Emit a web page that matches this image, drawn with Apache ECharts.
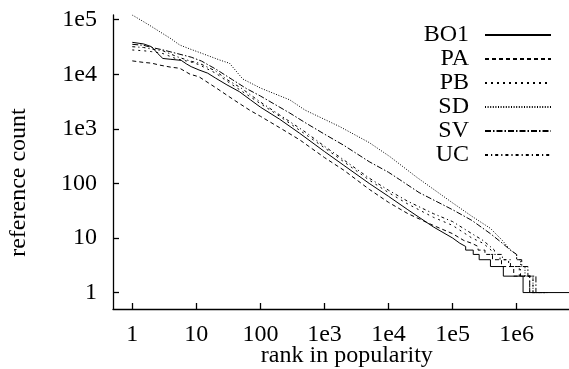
<!DOCTYPE html>
<html>
<head>
<meta charset="utf-8">
<script src="https://cdn.jsdelivr.net/npm/echarts@6/dist/echarts.min.js"></script>
<style>
html,body{margin:0;padding:0;background:#fff;}
#chart{width:569px;height:369px;}
</style>
</head>
<body>
<div id="chart"></div>
<script>
const seriesNames = ['BO1', 'PA', 'PB', 'SD', 'SV', 'UC'];

const BO1 = [[1,38500],[1.5,36000],[2,32000],[2.5,24000],[3,19500],[4,18800],[5.8,18000],[7,15500],[8.3,13800],[11,12000],[15,10500],[20,8500],[30,6400],[47,4800],[70,3400],[100,2500],[200,1500],[410,830],[1000,384],[2000,215],[5000,100],[10000,58],[20000,33],[50000,16],[100000,10],[130000,8],[160000,7],[160000,6],[210000,6],[210000,5],[260000,5],[260000,4],[390000,4],[390000,3],[620000,3],[620000,2],[1260000,2],[1260000,1],[7000000,1]];

const PA = [[1,17600],[1.5,16500],[2,16000],[2.7,14700],[4,13500],[5.5,12900],[8,10000],[11,9000],[20,5700],[40,3300],[68,2200],[100,1700],[200,1050],[410,630],[1000,298],[2000,175],[5000,78],[10000,45],[20000,28],[50000,17],[100000,12],[150000,9],[200000,8],[250000,7],[250000,6],[320000,6],[320000,5],[420000,5],[420000,4],[580000,4],[580000,3],[900000,3],[900000,2],[1600000,2],[1600000,1],[2500000,1]];

const PB = [[1,27900],[1.5,27000],[2,26000],[3,24000],[5,19000],[8,17000],[11,15000],[20,10500],[30,7500],[50,5000],[100,2900],[200,1700],[500,800],[1000,450],[2000,250],[5000,115],[10000,68],[20000,42],[50000,24],[100000,17],[200000,10],[300000,8],[400000,6],[400000,5],[550000,5],[550000,4],[750000,4],[750000,3],[1100000,3],[1100000,2],[1800000,2],[1800000,1],[3000000,1]];

const SD = [[1,122000],[1.5,92000],[2,75000],[2.7,60000],[4,45000],[5.5,34400],[8,29000],[11.3,25000],[23,18300],[33,15900],[53,8200],[100,5600],[287,3400],[500,2200],[1730,1100],[5000,560],[10500,310],[27500,130],[100000,44],[200000,25],[390000,15],[600000,9],[800000,6],[1000000,5],[1000000,4],[1150000,4],[1150000,3],[1350000,3],[1350000,2],[1800000,2],[1800000,1],[3200000,1]];

const SV = [[1,35400],[1.5,34000],[2,31000],[3,28000],[5,24000],[8.3,20600],[12,17500],[20,12500],[37,7900],[60,5500],[100,4000],[287,1950],[500,1300],[1000,800],[2000,500],[5000,250],[10000,160],[15000,117],[30000,68],[100000,33],[200000,21],[390000,12],[600000,8],[800000,6],[1000000,5],[1000000,4],[1200000,4],[1200000,3],[1500000,3],[1500000,2],[2000000,2],[2000000,1],[2800000,1]];

const UC = [[1,32000],[1.5,31000],[2,29000],[3,27000],[5,21000],[8,17500],[11,16000],[20,11500],[30,8000],[50,5600],[100,3100],[200,1800],[500,880],[1000,480],[2000,270],[5000,125],[10000,75],[20000,47],[50000,28],[100000,20],[200000,12],[300000,9],[450000,6],[450000,5],[600000,5],[600000,4],[800000,4],[800000,3],[1150000,3],[1150000,2],[1600000,2],[1600000,1],[2200000,1]];

const xTickValues = [1, 10, 100, 1000, 10000, 100000, 1000000];
const xTickLabels = ['1', '10', '100', '1e3', '1e4', '1e5', '1e6'];
const yTickValues = [1, 10, 100, 1000, 10000, 100000];
const yTickLabels = ['1', '10', '100', '1e3', '1e4', '1e5'];

const dataByName = { BO1: BO1, PA: PA, PB: PB, SD: SD, SV: SV, UC: UC };
const dashes = {
  BO1: 'solid',
  PA: [4, 3],
  PB: [2, 4],
  SD: [1, 1.6],
  SV: [6, 2, 1.5, 2],
  UC: [3, 3, 1.2, 3]
};

const FONT = 'Liberation Serif';
const FS = 24;
const NONE = 'rgba(0,0,0,0)';

function labelFor(values, labels) {
  return function (v) {
    for (let i = 0; i < values.length; i++) {
      if (Math.abs(Math.log10(v) - Math.log10(values[i])) < 1e-6) return labels[i];
    }
    return '';
  };
}

const chart = echarts.init(document.getElementById('chart'), null, { renderer: 'canvas' });
chart.setOption({
  animation: false,
  backgroundColor: '#fff',
  grid: { left: 113, right: -11.7, top: 15, bottom: 60, containLabel: false, outerBoundsMode: 'none' },
  legend: {
    orient: 'vertical',
    right: 12,
    top: 18,
    align: 'right',
    itemWidth: 66,
    itemHeight: 24,
    itemGap: 0,
    selectedMode: false,
    itemStyle: { color: NONE, borderColor: NONE, borderWidth: 0 },
    textStyle: { fontFamily: FONT, fontSize: FS, color: '#000', lineHeight: 24, padding: [0, 11, 0, 0] },
    data: seriesNames
  },
  xAxis: {
    type: 'log',
    logBase: 10,
    min: 0.5,
    max: 1e7,
    name: 'rank in popularity',
    nameLocation: 'middle',
    nameGap: 35,
    nameMoveOverlap: false,
    nameTextStyle: { fontFamily: FONT, fontSize: FS, color: '#000' },
    axisLine: { show: true, lineStyle: { color: '#000', width: 1.3 } },
    axisTick: { show: true, inside: true, length: 6, lineStyle: { color: '#000', width: 1.3 }, customValues: xTickValues },
    axisLabel: { fontFamily: FONT, fontSize: FS, color: '#000', margin: 14, customValues: xTickValues, formatter: labelFor(xTickValues, xTickLabels) },
    splitLine: { show: false },
    minorTick: { show: false }
  },
  yAxis: {
    type: 'log',
    logBase: 10,
    min: 0.5,
    max: 1.22e5,
    name: 'reference count',
    nameLocation: 'middle',
    nameRotate: 90,
    nameGap: 82,
    nameMoveOverlap: false,
    nameTextStyle: { fontFamily: FONT, fontSize: FS, color: '#000', padding: [0, 41, 0, 0] },
    axisLine: { show: true, lineStyle: { color: '#000', width: 1.3 } },
    axisTick: { show: true, inside: true, length: 6, lineStyle: { color: '#000', width: 1.3 }, customValues: yTickValues },
    axisLabel: { fontFamily: FONT, fontSize: FS, color: '#000', margin: 16, customValues: yTickValues, formatter: labelFor(yTickValues, yTickLabels) },
    splitLine: { show: false },
    minorTick: { show: false }
  },
  series: seriesNames.map(function (n) {
    return {
      name: n,
      type: 'line',
      data: dataByName[n],
      symbol: 'none',
      showSymbol: false,
      smooth: false,
      clip: true,
      lineStyle: { color: '#000', width: 1, type: dashes[n] },
      itemStyle: { color: NONE },
      emphasis: { disabled: true }
    };
  })
});
</script>
</body>
</html>
